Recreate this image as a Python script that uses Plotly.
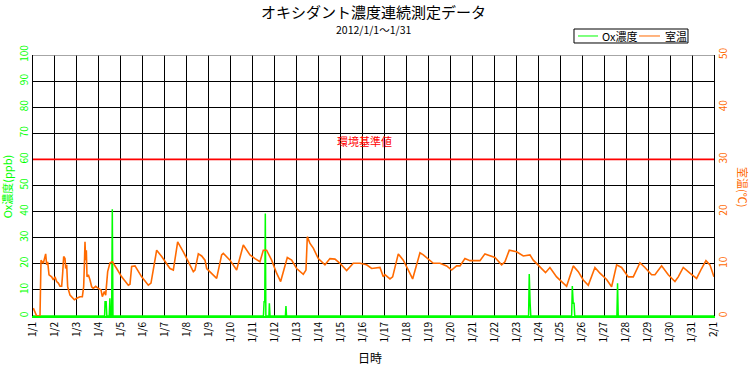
import pandas as pd
import plotly.graph_objects as go

# ---- data ----
START = "2012-01-01"
TICK_LABELS = ["1/%d" % d for d in range(1, 32)] + ["2/1"]

# temperature (室温, ℃): time as day offset from 2012/1/1 00:00
TEMP_DAY = [0.015, 0.09, 0.167, 0.319, 0.364, 0.47, 0.546, 0.577, 0.622, 0.668, 0.729, 0.85, 0.926, 1.0,
            1.077, 1.153, 1.229, 1.305, 1.35, 1.396, 1.457, 1.487, 1.533, 1.578, 1.684, 1.76, 1.881,
            1.988, 2.139, 2.246, 2.306, 2.337, 2.367, 2.397, 2.428, 2.458, 2.519, 2.595, 2.67, 2.746,
            2.853, 2.974, 3.095, 3.156, 3.247, 3.308, 3.399, 3.505, 3.611, 3.808, 4.036, 4.339, 4.415,
            4.491, 4.643, 4.946, 5.25, 5.371, 5.629, 5.857, 6.236, 6.388, 6.585, 6.843, 7.146, 7.298,
            7.374, 7.526, 7.677, 7.829, 7.905, 8.284, 8.36, 8.587, 8.663, 8.967, 9.27, 9.573, 9.877,
            10.105, 10.332, 10.484, 10.635, 10.863, 11.09, 11.273, 11.576, 11.773, 12.001, 12.304,
            12.426, 12.487, 12.608, 12.76, 12.987, 13.29, 13.518, 13.746, 13.973, 14.277, 14.58,
            14.884, 15.187, 15.415, 15.794, 15.946, 16.022, 16.249, 16.371, 16.629, 16.856, 17.084,
            17.281, 17.615, 17.767, 18.222, 18.525, 18.829, 19.056, 19.284, 19.436, 19.663, 19.891,
            20.346, 20.573, 21.028, 21.332, 21.484, 21.681, 22.015, 22.318, 22.622, 22.773, 23.077,
            23.33, 23.532, 23.836, 24.291, 24.443, 24.594, 24.822, 25.049, 25.277, 25.58, 25.808,
            26.111, 26.339, 26.567, 26.794, 27.098, 27.325, 27.629, 27.856, 28.16, 28.311, 28.615,
            28.918, 29.222, 29.373, 29.601, 29.904, 30.208, 30.435, 30.633, 30.815, 30.997]
TEMP_VAL = [1.5, 0.8, 0.0, 0.0, 10.7, 10.1, 11.4, 11.9, 9.8, 10.4, 7.9, 7.5, 6.9, 7.5,
            6.6, 6.3, 5.7, 5.7, 8.2, 11.4, 11.0, 9.1, 9.8, 5.6, 4.0, 3.7, 3.1,
            3.4, 3.7, 3.7, 5.6, 9.5, 14.2, 10.7, 12.6, 7.5, 7.9, 6.9, 5.6, 5.3,
            5.7, 5.3, 5.0, 3.7, 4.7, 4.0, 8.5, 10.2, 10.4, 9.1, 7.5, 5.9, 6.1,
            9.5, 9.6, 7.5, 5.9, 6.3, 12.6, 11.4, 9.1, 8.8, 14.2, 12.3, 9.8, 8.5,
            8.8, 11.9, 11.5, 10.7, 9.1, 7.5, 7.2, 11.7, 12.0, 10.7, 8.8, 13.6, 11.7,
            11.0, 10.4, 12.6, 12.6, 10.7, 8.2, 6.6, 11.2, 10.7, 9.1, 8.0,
            8.8, 15.2, 13.9, 13.0, 11.0, 9.8, 11.0, 10.9, 10.1, 8.7, 10.1,
            10.1, 9.8, 9.1, 9.3, 7.5, 7.9, 7.1, 7.5, 11.9, 10.7, 8.8,
            7.1, 12.1, 11.7, 10.1, 10.1, 9.6, 8.8, 9.6, 9.6, 11.0, 10.6,
            10.6, 11.9, 11.2, 9.8, 10.4, 12.6, 12.3, 11.5, 11.7, 10.7, 9.4,
            8.3, 9.3, 7.5, 5.7, 7.5, 9.6, 8.5, 6.9, 5.9, 9.3, 8.2,
            7.0, 5.6, 9.8, 9.3, 7.5, 7.5, 10.2, 9.3, 7.9, 7.9, 9.6,
            7.9, 6.6, 7.5, 9.3, 8.2, 7.2, 9.1, 10.6, 9.8, 7.5]

# Ox concentration (ppb)
OX_DAY = [0.0, 3.26, 3.28, 3.33, 3.36, 3.47, 3.5, 3.53, 3.58, 3.61, 3.64, 10.49, 10.52, 10.55,
          10.575, 10.6, 10.74, 10.76, 10.79, 11.49, 11.515, 11.54, 22.56, 22.59, 22.63, 22.66,
          24.52, 24.55, 24.59, 24.63, 24.66, 26.58, 26.61, 26.64, 31.0]
OX_VAL = [0, 0, 5.5, 5.5, 0, 0, 6.8, 0, 0, 40.9, 0, 0, 5.5, 5.5,
          39.3, 0, 0, 4.9, 0, 0, 3.8, 0, 0, 16.1, 4.9, 0,
          0, 11.5, 4.9, 4.9, 0, 0, 12.5, 0, 0]

STANDARD = 60  # 環境基準値 (ppb)

# ---- build ----
t0 = pd.Timestamp(START)
tx = [t0 + pd.to_timedelta(d, unit="D") for d in TEMP_DAY]
ox = [t0 + pd.to_timedelta(d, unit="D") for d in OX_DAY]
tickvals = [t0 + pd.Timedelta(days=i) for i in range(len(TICK_LABELS))]

GREEN = "#00FF00"
ORANGE = "#FF6A00"
FONT = "Noto Sans CJK JP"

fig = go.Figure()
fig.add_trace(go.Scatter(x=tx, y=TEMP_VAL, yaxis="y2", mode="lines",
                         line=dict(color=ORANGE, width=1.6), name="室温"))
fig.add_trace(go.Scatter(x=ox, y=OX_VAL, mode="lines",
                         line=dict(color=GREEN, width=1.5), name="Ox濃度"))

fig.update_layout(
    width=753, height=367,
    margin=dict(l=33, r=39, t=55, b=51, autoexpand=False),
    paper_bgcolor="white", plot_bgcolor="white",
    showlegend=False,
    font=dict(family=FONT, size=10, color="black"),
    xaxis=dict(type="date", range=[tickvals[0], tickvals[-1]], automargin=False,
               tickvals=tickvals, ticktext=TICK_LABELS, tickangle=-90,
               showgrid=True, gridcolor="black", gridwidth=1,
               showline=True, linecolor=GREEN, linewidth=2,
               tickfont=dict(size=10, color="black"), ticks=""),
    yaxis=dict(range=[0, 100], tickvals=list(range(0, 101, 10)), tickangle=-90, automargin=False,
               showgrid=True, gridcolor="black", gridwidth=1, zeroline=False,
               showline=True, linecolor="black", linewidth=1,
               tickfont=dict(size=10, color=GREEN), ticks=""),
    yaxis2=dict(range=[0, 50], tickvals=list(range(0, 51, 10)), tickangle=-90, automargin=False,
                overlaying="y", side="right", showgrid=False, zeroline=False,
                showline=True, linecolor="black", linewidth=1,
                tickfont=dict(size=10, color=ORANGE), ticks=""),
)

# reference lines
fig.add_shape(type="line", xref="paper", x0=0, x1=1, yref="y", y0=STANDARD, y1=STANDARD,
              line=dict(color="#FF0000", width=1.6))
fig.add_shape(type="line", xref="paper", x0=0, x1=1, yref="y", y0=100, y1=100,
              line=dict(color="#888888", width=1.6))

ann = [
    dict(text="オキシダント濃度連続測定データ", x=0.5, y=1.165, font=dict(size=15, color="black")),
    dict(text="2012/1/1～1/31", x=0.5, y=1.096, font=dict(size=10.5, color="black")),
    dict(text="環境基準値", x=0.4875, y=0.67, font=dict(size=11, color="red")),
    dict(text="Ox濃度(ppb)", x=-0.038, y=0.494, textangle=-90, font=dict(size=11, color=GREEN)),
    dict(text="室温(℃)", x=1.0426, y=0.494, textangle=90, font=dict(size=11, color=ORANGE)),
    dict(text="日時", x=0.495, y=-0.16, font=dict(size=12, color="black")),
    dict(text="Ox濃度", x=0.8326, y=1.0728, xanchor="left", font=dict(size=11, color="black")),
    dict(text="室温", x=0.9251, y=1.0728, xanchor="left", font=dict(size=11, color="black")),
]
for a in ann:
    a.setdefault("xanchor", "center")
    fig.add_annotation(xref="paper", yref="paper", showarrow=False, yanchor="middle", **a)

# custom legend box
fig.add_shape(type="rect", xref="paper", yref="paper", x0=0.7944, x1=0.9618, y0=1.046, y1=1.0996,
              line=dict(color="black", width=1), fillcolor="white", layer="below")
fig.add_shape(type="line", xref="paper", yref="paper", x0=0.8003, x1=0.8297, y0=1.0728, y1=1.0728,
              line=dict(color=GREEN, width=1))
fig.add_shape(type="line", xref="paper", yref="paper", x0=0.8899, x1=0.9207, y0=1.0728, y1=1.0728,
              line=dict(color=ORANGE, width=1))

fig.write_html("out.html", config={"displayModeBar": False},
               post_script="document.body.style.margin='0';document.body.style.overflow='hidden';")
